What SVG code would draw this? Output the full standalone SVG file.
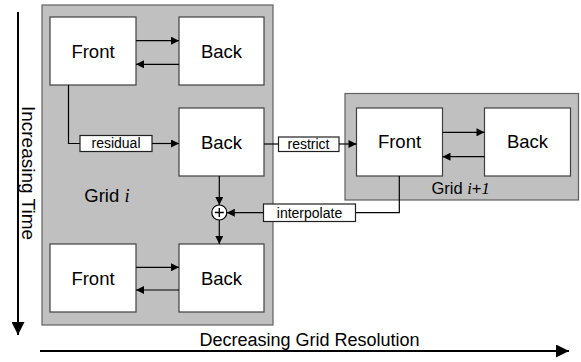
<svg xmlns="http://www.w3.org/2000/svg" width="581" height="362" viewBox="0 0 581 362">
<style>
.panel{fill:#c0c0c0;stroke:#606060;stroke-width:1.2}
.box{fill:#fff;stroke:#404040;stroke-width:1.2}
.lbl{fill:#fff;stroke:#202020;stroke-width:1.2}
.ln{fill:none;stroke:#000;stroke-width:1.2}
.ax{fill:none;stroke:#000;stroke-width:2}
.t{font-family:"Liberation Sans",Arial,sans-serif;fill:#000}
.big{font-size:18.5px}
.sm{font-size:14px}
.it{font-family:"Liberation Serif","Times New Roman",serif;font-style:italic}
</style>
<defs>
<marker id="ah" viewBox="0 0 10 10" refX="10" refY="5" markerWidth="9" markerHeight="8" markerUnits="userSpaceOnUse" orient="auto">
<path d="M0,0 L10,5 L0,10 z" fill="#000"/>
</marker>
<marker id="bigah" viewBox="0 0 10 10" refX="10" refY="5" markerWidth="13" markerHeight="13" markerUnits="userSpaceOnUse" orient="auto">
<path d="M0,0 L10,5 L0,10 z" fill="#000"/>
</marker>
</defs>

<g id="gridI">
<rect class="panel" x="42" y="5" width="231" height="320"/>
<text class="t big" x="84.3" y="201.5">Grid <tspan class="it">i</tspan></text>
</g>
<g id="gridI1">
<rect class="panel" x="345" y="93.5" width="233.5" height="106.5"/>
<text class="t" style="font-size:16.5px" x="431.5" y="194">Grid <tspan class="it">i</tspan>+<tspan class="it">1</tspan></text>
</g>

<g id="front1"><rect class="box" x="50" y="17" width="86" height="68"/><text class="t big" x="93" y="57.5" text-anchor="middle">Front</text></g>
<g id="back1"><rect class="box" x="179" y="17" width="85" height="68"/><text class="t big" x="221.5" y="57.5" text-anchor="middle">Back</text></g>
<g id="back2"><rect class="box" x="179" y="108" width="85" height="68"/><text class="t big" x="221.5" y="148.5" text-anchor="middle">Back</text></g>
<g id="front3"><rect class="box" x="50" y="244" width="86" height="68"/><text class="t big" x="93" y="284.5" text-anchor="middle">Front</text></g>
<g id="back3"><rect class="box" x="179" y="244" width="85" height="68"/><text class="t big" x="221.5" y="284.5" text-anchor="middle">Back</text></g>
<g id="frontN"><rect class="box" x="356.5" y="108" width="86" height="68"/><text class="t big" x="399.5" y="148" text-anchor="middle">Front</text></g>
<g id="backN"><rect class="box" x="484.5" y="108" width="86" height="68"/><text class="t big" x="527.5" y="148" text-anchor="middle">Back</text></g>

<g id="residual"><rect class="lbl" x="80" y="135.5" width="72" height="16"/><text class="t sm" x="116" y="148.3" text-anchor="middle">residual</text></g>
<g id="restrict"><rect class="lbl" x="278.5" y="137" width="60.5" height="14.5"/><text class="t sm" x="308.5" y="149.3" text-anchor="middle">restrict</text></g>
<g id="interpolate"><rect class="lbl" x="263.5" y="204" width="92" height="17.5"/><text class="t sm" x="309.5" y="217.8" text-anchor="middle">interpolate</text></g>
<g id="sum">
<circle cx="219.3" cy="212.5" r="7.5" fill="#fff" stroke="#000" stroke-width="1.2"/>
<path d="M214.8,212.5 H223.8 M219.3,208 V217" stroke="#000" stroke-width="1.4"/>
</g>

<g id="connectors">
<line class="ln" x1="136" y1="40.7" x2="179" y2="40.7" marker-end="url(#ah)"/>
<line class="ln" x1="179" y1="64.3" x2="136" y2="64.3" marker-end="url(#ah)"/>
<line class="ln" x1="136" y1="267.3" x2="179" y2="267.3" marker-end="url(#ah)"/>
<line class="ln" x1="179" y1="290" x2="136" y2="290" marker-end="url(#ah)"/>
<line class="ln" x1="442.5" y1="132.3" x2="484.5" y2="132.3" marker-end="url(#ah)"/>
<line class="ln" x1="484.5" y1="156.7" x2="442.5" y2="156.7" marker-end="url(#ah)"/>
<polyline class="ln" points="68.5,85 68.5,143.5 80,143.5"/>
<line class="ln" x1="152" y1="143.5" x2="179" y2="143.5" marker-end="url(#ah)"/>
<line class="ln" x1="264" y1="144" x2="278.5" y2="144"/>
<line class="ln" x1="339" y1="144" x2="356.5" y2="144" marker-end="url(#ah)"/>
<polyline class="ln" points="399.3,176 399.3,212.7 355.5,212.7"/>
<line class="ln" x1="263.5" y1="212.7" x2="226.8" y2="212.7" marker-end="url(#ah)"/>
<line class="ln" x1="219.3" y1="176" x2="219.3" y2="205" marker-end="url(#ah)"/>
<line class="ln" x1="219.3" y1="220" x2="219.3" y2="244" marker-end="url(#ah)"/>
</g>

<g id="axes">
<line class="ax" x1="18" y1="12" x2="18" y2="335" marker-end="url(#bigah)"/>
<text class="t" style="font-size:19px" transform="translate(21.5,173) rotate(90)" text-anchor="middle">Increasing Time</text>
<line class="ax" x1="40" y1="351" x2="569" y2="351" marker-end="url(#bigah)"/>
<text class="t" style="font-size:18px" x="309.5" y="345.5" text-anchor="middle">Decreasing Grid Resolution</text>
</g>
</svg>
